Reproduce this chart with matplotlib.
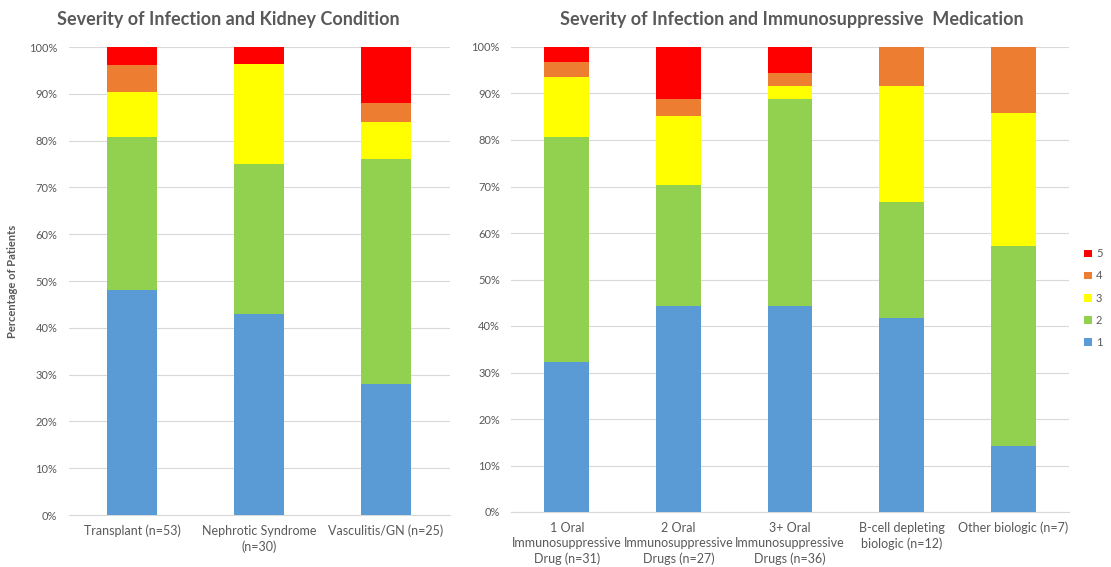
import numpy as np
import matplotlib.pyplot as plt
from matplotlib.patches import Patch

plt.rcParams['font.family'] = ['Lato', 'DejaVu Sans']

# percentages for each severity level (1..5), per category
kidney_labels = ['Transplant (n=53)', 'Nephrotic Syndrome\n(n=30)', 'Vasculitis/GN (n=25)']
kidney_sev1 = [48.1, 42.9, 28.0]
kidney_sev2 = [32.7, 32.1, 48.0]
kidney_sev3 = [9.6, 21.4, 8.0]
kidney_sev4 = [5.8, 0.0, 4.0]
kidney_sev5 = [3.8, 3.6, 12.0]

med_labels = ['1 Oral\nImmunosuppressive\nDrug (n=31)',
              '2 Oral\nImmunosuppressive\nDrugs (n=27)',
              '3+ Oral\nImmunosuppressive\nDrugs (n=36)',
              'B-cell depleting\nbiologic (n=12)',
              'Other biologic (n=7)']
med_sev1 = [32.3, 44.4, 44.4, 41.7, 14.3]
med_sev2 = [48.4, 25.9, 44.4, 25.0, 42.9]
med_sev3 = [12.9, 14.8, 2.8, 25.0, 28.6]
med_sev4 = [3.2, 3.7, 2.8, 8.3, 14.3]
med_sev5 = [3.2, 11.1, 5.6, 0.0, 0.0]

severity_names = ['1', '2', '3', '4', '5']
colors = ['#5B9BD5', '#92D050', '#FFFF00', '#ED7D31', '#FF0000']
txt = '#595959'

fig = plt.figure(figsize=(11.11, 5.67), dpi=100)
W, H = 1111, 567
ax1 = fig.add_axes([68.5 / W, 1 - 515 / H, 381 / W, 468 / H])
ax2 = fig.add_axes([511 / W, 1 - 512 / H, 558 / W, 465 / H])


def stacked(ax, labels, series):
    x = np.arange(len(labels))
    bottom = np.zeros(len(labels))
    for vals, c in zip(series, colors):
        ax.bar(x, vals, 0.4, bottom=bottom, color=c, zorder=3)
        bottom += np.array(vals)
    ax.set_xlim(-0.5, len(labels) - 0.5)
    ax.set_ylim(0, 100)
    ax.set_yticks(np.arange(0, 101, 10))
    ax.set_yticklabels([f'{v}%' for v in range(0, 101, 10)])
    ax.set_xticks(x)
    ax.set_xticklabels(labels, fontsize=9, color=txt, linespacing=1.35)
    ax.tick_params(axis='y', labelsize=8, colors=txt, length=0, pad=8)
    ax.tick_params(axis='x', length=0, pad=7)
    ax.grid(axis='y', color='#D9D9D9', linewidth=0.8, zorder=0)
    for s in ['top', 'right', 'left']:
        ax.spines[s].set_visible(False)
    ax.spines['bottom'].set_color('#D9D9D9')


stacked(ax1, kidney_labels, [kidney_sev1, kidney_sev2, kidney_sev3, kidney_sev4, kidney_sev5])
stacked(ax2, med_labels, [med_sev1, med_sev2, med_sev3, med_sev4, med_sev5])

ax1.set_ylabel('Percentage of Patients', fontsize=8, color=txt, fontweight='bold', labelpad=8)

fig.text(228 / W, 1 - 20 / H, 'Severity of Infection and Kidney Condition',
         ha='center', va='center', fontsize=13, fontweight='bold', color=txt)
fig.text(792 / W, 1 - 20 / H, 'Severity of Infection and Immunosuppressive  Medication',
         ha='center', va='center', fontsize=13, fontweight='bold', color=txt)

handles = [Patch(facecolor=c, label=n) for c, n in zip(colors, severity_names)][::-1]
fig.legend(handles=handles, loc='center left', bbox_to_anchor=(1076 / W, 1 - 298 / H),
           frameon=False, fontsize=8, handlelength=0.7, handleheight=0.7,
           handletextpad=0.4, labelspacing=1.0, labelcolor=txt, borderpad=0.2)

fig.savefig('out.png', dpi=100)
